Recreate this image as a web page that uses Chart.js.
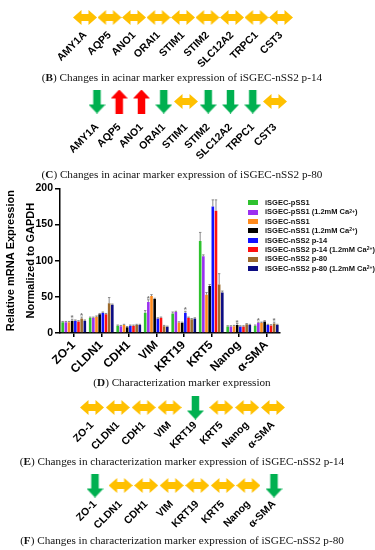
<!DOCTYPE html>
<html><head><meta charset="utf-8">
<script src="https://cdn.jsdelivr.net/npm/chart.js@4/dist/chart.umd.min.js"></script>
<style>
html,body{margin:0;padding:0;background:#fff;}
body{width:375px;height:550px;position:relative;overflow:hidden;font-family:"Liberation Sans",Arial,sans-serif;}
canvas{position:absolute;left:0;}
.cap{position:absolute;left:0;width:364px;text-align:center;font-family:"Liberation Serif","Times New Roman",serif;font-size:11.2px;color:#111;white-space:nowrap;line-height:14px;}
#legend{position:absolute;left:248px;top:198px;font:bold 7.5px "Liberation Sans",Arial,sans-serif;color:#111;}
.li{height:9.4px;line-height:9.4px;white-space:nowrap;display:flex;align-items:center;}
.sw{display:inline-block;width:10px;height:5px;margin-right:7px;}
sup{font-size:5px;vertical-align:top;line-height:5px;position:relative;top:-1px;}
</style></head><body>
<canvas id="rowB"></canvas>
<div class="cap" style="top:70px">(<b>B</b>) Changes in acinar marker expression of iSGEC-nSS2 p-14</div>
<canvas id="rowC"></canvas>
<div class="cap" style="top:167px">(<b>C</b>) Changes in acinar marker expression of iSGEC-nSS2 p-80</div>
<canvas id="bar"></canvas>
<div id="legend"></div>
<div class="cap" style="top:375px">(<b>D</b>) Characterization marker expression</div>
<canvas id="rowE"></canvas>
<div class="cap" style="top:454px">(<b>E</b>) Changes in characterization marker expression of iSGEC-nSS2 p-14</div>
<canvas id="rowF"></canvas>
<div class="cap" style="top:533px">(<b>F</b>) Changes in characterization marker expression of iSGEC-nSS2 p-80</div>
<script>
// ---------- data ----------
const acinarMarkers = ['AMY1A','AQP5','ANO1','ORAI1','STIM1','STIM2','SLC12A2','TRPC1','CST3'];
const acinarChangeP14 = ['same','same','same','same','same','same','same','same','same'];
const acinarChangeP80 = ['down','up','up','down','same','down','down','down','same'];
const charMarkers = ['ZO-1','CLDN1','CDH1','VIM','KRT19','KRT5','Nanog','α-SMA'];
const charChangeP14 = ['same','same','same','same','down','same','same','same'];
const charChangeP80 = ['down','same','same','same','same','same','same','down'];

const seriesNames = ['iSGEC-pSS1','iSGEC-pSS1 (1.2mM Ca2+)','iSGEC-nSS1','iSGEC-nSS1 (1.2mM Ca2+)',
  'iSGEC-nSS2 p-14','iSGEC-nSS2 p-14 (1.2mM Ca2+)','iSGEC-nSS2 p-80','iSGEC-nSS2 p-80 (1.2mM Ca2+)'];
const pSS1       = [15, 21, 10, 28, 27, 127, 9, 10];
const pSS1Ca     = [15, 21, 9.5, 43, 29, 106, 9, 14];
const nSS1       = [15, 22.5, 11, 51, 14.5, 53, 9.5, 14];
const nSS1Ca     = [17, 26, 8, 47, 14, 65, 11, 16];
const nSS2p14    = [17, 28, 10, 20, 28, 175, 9, 11];
const nSS2p14Ca  = [16, 26, 10, 21, 21, 169, 9, 10.5];
const nSS2p80    = [20, 41, 11, 9.5, 19, 67, 12, 13];
const nSS2p80Ca  = [17, 39, 11, 8.5, 20, 56, 11, 11];
const errPSS1      = [1, 1, 1, 3, 2, 12, 1, 1];
const errPSS1Ca    = [1, 1, 1, 3, 1, 2, 1, 1];
const errNSS1      = [1, 1, 1, 2, 1, 3, 1, 1];
const errNSS1Ca    = [2, 1, 1, 1, 1, 2, 2, 1];
const errNSS2p14   = [1, 1, 1, 1, 2, 9, 1, 1];
const errNSS2p14Ca = [1, 1, 1, 1, 1, 15, 1, 1];
const errNSS2p80   = [2, 8, 1, 1, 1, 15, 1, 2];
const errNSS2p80Ca = [1, 1, 1, 1, 1, 2, 1, 1];
// significance marks: [series index, category index]
const significant = [[3,0],[6,0],[1,3],[4,4],[3,6],[1,7],[6,7]];
const yTicks = [0, 50, 100, 150, 200];

// ---------- styles ----------
const seriesValues = [pSS1,pSS1Ca,nSS1,nSS1Ca,nSS2p14,nSS2p14Ca,nSS2p80,nSS2p80Ca];
const seriesErrors = [errPSS1,errPSS1Ca,errNSS1,errNSS1Ca,errNSS2p14,errNSS2p14Ca,errNSS2p80,errNSS2p80Ca];
const seriesColors = ['#2ec22e','#9b30f0','#ff8a1c','#000000','#1212ff','#ff1010','#9c6a2c','#0c0c82'];
const ARROW_COLORS = {same:'#ffc000', down:'#00b050', up:'#ff0000'};
const FONT = '"Liberation Sans", Arial, sans-serif';
Chart.defaults.font.family = FONT;

function arrowImage(kind){
  const c = document.createElement('canvas');
  const g = c.getContext('2d');
  let pts;
  if (kind === 'same') {
    const w = 24, h = 15, hl = 8.5, s0 = h*0.26, s1 = h*0.74;
    c.width = w; c.height = h;
    pts = [[0,h/2],[hl,0],[hl,s0],[w-hl,s0],[w-hl,0],[w,h/2],[w-hl,h],[w-hl,s1],[hl,s1],[hl,h]];
  } else {
    const w = 17, h = 24, hl = 9, a = (w-7.5)/2, b = (w+7.5)/2;
    c.width = w; c.height = h;
    pts = [[a,0],[b,0],[b,h-hl],[w,h-hl],[w/2,h],[0,h-hl],[a,h-hl]];
    if (kind === 'up') pts = pts.map(([x,y]) => [x, h-y]);
  }
  g.fillStyle = ARROW_COLORS[kind];
  g.beginPath();
  pts.forEach(([x,y],i) => i ? g.lineTo(x,y) : g.moveTo(x,y));
  g.closePath(); g.fill();
  return c;
}
const arrowImgs = {same: arrowImage('same'), down: arrowImage('down'), up: arrowImage('up')};

function arrowRow(id, markers, changes, geo){
  const cv = document.getElementById(id);
  const axisH = 48;
  const n = markers.length, step = (geo.last - geo.first)/(n-1);
  const left = geo.first - step/2, right = 375 - (geo.last + step/2);
  cv.style.top = (geo.center - geo.d) + 'px';
  cv.width = 375; cv.height = 2*geo.d + axisH;
  new Chart(cv, {
    type: 'line',
    data: { labels: markers, datasets: [{
      data: changes.map(() => 0),
      pointStyle: changes.map(c => arrowImgs[c]),
      showLine: false, clip: false }] },
    options: {
      responsive: false, animation: false, devicePixelRatio: 1,
      layout: { padding: { left: left, right: right, top: 0, bottom: 0 } },
      plugins: { legend: { display: false }, tooltip: { enabled: false } },
      scales: {
        x: { offset: true, grid: { display: false, drawTicks: false }, border: { display: false },
             ticks: { color: '#000', font: { family: FONT, weight: 'bold', size: 10.5 },
                      minRotation: 45, maxRotation: 45, padding: 0, autoSkip: false },
             afterFit: s => { s.height = axisH; } },
        y: { display: false, min: -1, max: 1 }
      }
    }
  });
}

arrowRow('rowB', acinarMarkers, acinarChangeP14, {center: 15, d: 14, first: 85, last: 281});
arrowRow('rowC', acinarMarkers, acinarChangeP80, {center: 99, d: 22, first: 97, last: 275});
arrowRow('rowE', charMarkers, charChangeP14, {center: 405, d: 14, first: 92, last: 273});
arrowRow('rowF', charMarkers, charChangeP80, {center: 483, d: 15, first: 95, last: 274});

// ---------- bar chart ----------
const errorBars = {
  id: 'errorBars',
  afterDatasetsDraw(chart){
    const ctx = chart.ctx, ys = chart.scales.y;
    ctx.save();
    ctx.strokeStyle = '#8a8a8a'; ctx.lineWidth = 1;
    chart.data.datasets.forEach((ds, i) => {
      chart.getDatasetMeta(i).data.forEach((el, j) => {
        const top = ys.getPixelForValue(ds.data[j] + seriesErrors[i][j]);
        ctx.beginPath();
        ctx.moveTo(el.x, el.y); ctx.lineTo(el.x, top);
        ctx.moveTo(el.x - 1.2, top); ctx.lineTo(el.x + 1.2, top);
        ctx.stroke();
      });
    });
    ctx.fillStyle = '#777';
    ctx.font = 'bold 8px ' + FONT;
    ctx.textAlign = 'center'; ctx.textBaseline = 'bottom';
    significant.forEach(([i, j]) => {
      const el = chart.getDatasetMeta(i).data[j];
      const top = ys.getPixelForValue(seriesValues[i][j] + seriesErrors[i][j]);
      ctx.fillText('*', el.x, top + 3);
    });
    ctx.restore();
  }
};

const bc = document.getElementById('bar');
bc.style.top = '180px'; bc.width = 375; bc.height = 195;
new Chart(bc, {
  type: 'bar',
  data: { labels: charMarkers, datasets: seriesValues.map((v, i) => ({
    label: seriesNames[i], data: v, backgroundColor: seriesColors[i], borderWidth: 0,
    categoryPercentage: 0.92, barPercentage: 0.82 })) },
  options: {
    responsive: false, animation: false, devicePixelRatio: 1,
    layout: { padding: { left: 0, right: 95, top: 6, bottom: 0 } },
    plugins: { legend: { display: false }, tooltip: { enabled: false } },
    scales: {
      x: { grid: { offset: false, drawOnChartArea: false, drawTicks: true, tickLength: 4, color: '#000', lineWidth: 1.5 },
           border: { color: '#000', width: 1.5 },
           ticks: { color: '#000', font: { family: FONT, weight: 'bold', size: 12 },
                    minRotation: 45, maxRotation: 45, padding: 1, autoSkip: false },
           afterFit: s => { s.height = 42; } },
      y: { min: 0, max: 200,
           afterBuildTicks: s => { s.ticks = yTicks.map(v => ({ value: v })); },
           grid: { drawOnChartArea: false, tickLength: 5, color: '#000', lineWidth: 1.5 },
           border: { color: '#000', width: 1.5 },
           ticks: { color: '#000', font: { family: FONT, weight: 'bold', size: 10.5 }, padding: 2 },
           title: { display: true, text: ['Relative mRNA Expression', 'Normalized to GAPDH'], color: '#000',
                    font: { family: FONT, weight: 'bold', size: 11, lineHeight: 1.8 }, padding: { top: 1, bottom: 0 } },
           afterFit: s => { s.width = 60; } }
    }
  },
  plugins: [errorBars]
});

// legend
const lg = document.getElementById('legend');
seriesNames.forEach((name, i) => {
  const row = document.createElement('div');
  row.className = 'li';
  row.innerHTML = '<span class="sw" style="background:' + seriesColors[i] + '"></span>' +
    name.replace('Ca2+', 'Ca<sup>2+</sup>');
  lg.appendChild(row);
});
</script>
</body></html>
